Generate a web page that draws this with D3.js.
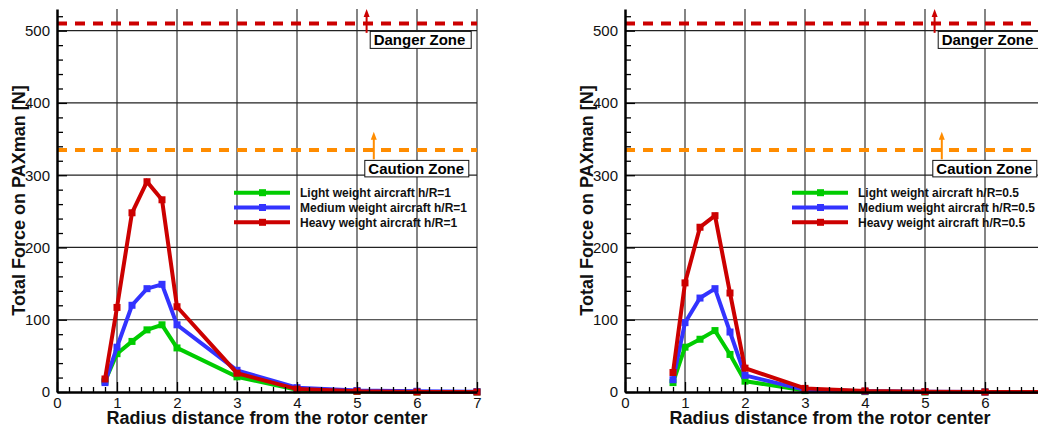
<!DOCTYPE html>
<html>
<head>
<meta charset="utf-8">
<script src="https://cdn.jsdelivr.net/npm/d3@7"></script>
<style>
body { margin: 0; background: #fff; }
svg { display: block; font-family: "Liberation Sans", Arial, Helvetica, sans-serif; }
</style>
</head>
<body>
<svg id="chart"></svg>
<script>
// radius positions (r/R) where the force was evaluated
const radius = [0.8, 1, 1.25, 1.5, 1.75, 2, 3, 4, 5, 6, 7];

// h/R = 1 (left panel)
const lightH1  = [15, 53, 70, 86, 93, 61, 21, 3, 1, 0, 0];
const mediumH1 = [13, 62, 120, 143, 149, 93, 30, 6, 2, 1, 0.5];
const heavyH1  = [18, 117, 248, 291, 266, 118, 26, 4, 1, 0, 0];

// h/R = 0.5 (right panel)
const lightH05  = [13, 62, 73, 85, 52, 15, 2, 0.5, 0, 0, 0];
const mediumH05 = [17, 96, 130, 143, 83, 23, 3, 1, 0.5, 0, 0];
const heavyH05  = [27, 151, 228, 244, 137, 33, 5, 1.5, 0.5, 0, 0];

const seriesNames = ["Light weight aircraft", "Medium weight aircraft", "Heavy weight aircraft"];
const seriesColors = ["#00cc00", "#3333ff", "#cc0000"];

const dangerLevel = 510;
const cautionLevel = 335;

const xTicks = [0, 1, 2, 3, 4, 5, 6, 7];
const yTicks = [0, 100, 200, 300, 400, 500];
const yMinor = d3.range(20, 531, 20).filter(v => v % 100 !== 0);
const xMinor = d3.range(0.2, 7, 0.2).filter(v => Math.abs(v - Math.round(v)) > 0.01);

const width = 1038, height = 433;

const svg = d3.select("#chart")
    .attr("width", width)
    .attr("height", height);

svg.append("rect").attr("width", width).attr("height", height).attr("fill", "#fff");

function drawPanel(left, hr, values, legendLeft, titleCenter) {
    const x = d3.scaleLinear().domain([0, 7]).range([left, left + 420]);
    const y = d3.scaleLinear().domain([0, 530]).range([392, 9]);

    const g = svg.append("g");

    // grid
    g.selectAll(".vgrid")
        .data(xTicks.slice(1))
        .join("line")
        .attr("class", "vgrid")
        .attr("x1", d => x(d)).attr("x2", d => x(d))
        .attr("y1", y(0)).attr("y2", y(530))
        .attr("stroke", "#333").attr("stroke-width", 1.2);

    g.selectAll(".hgrid")
        .data(yTicks.slice(1))
        .join("line")
        .attr("class", "hgrid")
        .attr("x1", x(0)).attr("x2", x(7))
        .attr("y1", d => y(d)).attr("y2", d => y(d))
        .attr("stroke", "#222").attr("stroke-width", 1.2);

    // zone limits
    g.append("line")
        .attr("x1", x(0)).attr("x2", x(7))
        .attr("y1", y(dangerLevel)).attr("y2", y(dangerLevel))
        .attr("stroke", "#cc0000").attr("stroke-width", 4)
        .attr("stroke-dasharray", "10,8");

    g.append("line")
        .attr("x1", x(0)).attr("x2", x(7))
        .attr("y1", y(cautionLevel)).attr("y2", y(cautionLevel))
        .attr("stroke", "#ff8c00").attr("stroke-width", 4)
        .attr("stroke-dasharray", "10,8");

    // arrows
    function arrow(xv, y0, y1, color) {
        g.append("line")
            .attr("x1", x(xv)).attr("x2", x(xv))
            .attr("y1", y(y0)).attr("y2", y(y1) + 6)
            .attr("stroke", color).attr("stroke-width", 2);
        g.append("path")
            .attr("d", `M${x(xv) - 3},${y(y1) + 8}L${x(xv)},${y(y1)}L${x(xv) + 3},${y(y1) + 8}Z`)
            .attr("fill", color);
    }
    arrow(5.16, 497, 530, "#cc0000");
    arrow(5.28, 322, 360, "#ff8c00");

    // zone labels
    function zoneLabel(xv, yv, w, h, label) {
        g.append("rect")
            .attr("x", x(xv)).attr("y", y(yv))
            .attr("width", w).attr("height", h)
            .attr("fill", "#fff").attr("stroke", "#111").attr("stroke-width", 1);
        g.append("text")
            .attr("x", x(xv) + 3.5).attr("y", y(yv) + 13.5)
            .attr("font-size", 15).attr("font-weight", "bold")
            .text(label);
    }
    zoneLabel(5.22, 499, 101, 17, "Danger Zone");
    zoneLabel(5.13, 320.5, 104, 16.5, "Caution Zone");

    // series
    const line = d3.line().x(d => x(d[0])).y(d => y(d[1]));
    values.forEach((vals, i) => {
        const pts = radius.map((r, j) => [r, vals[j]]);
        g.append("path")
            .datum(pts)
            .attr("d", line)
            .attr("fill", "none")
            .attr("stroke", seriesColors[i])
            .attr("stroke-width", 4)
            .attr("stroke-linejoin", "miter");
        g.selectAll(".pt" + i)
            .data(pts)
            .join("rect")
            .attr("class", "pt" + i)
            .attr("x", d => x(d[0]) - 3.5).attr("y", d => y(d[1]) - 3.5)
            .attr("width", 7).attr("height", 7)
            .attr("fill", seriesColors[i]);
    });

    // legend
    const lg = g.append("g").attr("transform", `translate(${left + legendLeft},192.7)`);
    seriesNames.forEach((name, i) => {
        const row = lg.append("g").attr("transform", `translate(0,${i * 14.8})`);
        row.append("line").attr("x1", 0).attr("x2", 56)
            .attr("stroke", seriesColors[i]).attr("stroke-width", 4);
        row.append("rect").attr("x", 25).attr("y", -3.5).attr("width", 7).attr("height", 7)
            .attr("fill", seriesColors[i]);
        row.append("text")
            .attr("x", 66).attr("dy", "0.36em")
            .attr("font-size", 12).attr("font-weight", "bold")
            .attr("fill", "#111")
            .text(`${name} h/R=${hr}`);
    });

    // axes
    const yAxis = g.append("g")
        .attr("transform", `translate(${x(0)},0)`)
        .call(d3.axisLeft(y).tickValues(yTicks).tickSize(-10).tickSizeOuter(0).tickPadding(7));
    g.append("g")
        .attr("transform", `translate(${x(0)},0)`)
        .call(d3.axisLeft(y).tickValues(yMinor).tickSize(-6).tickFormat(""))
        .call(a => a.select(".domain").remove());

    const xAxis = g.append("g")
        .attr("transform", `translate(0,${y(0)})`)
        .call(d3.axisBottom(x).tickValues(xTicks).tickSize(-10).tickSizeOuter(0).tickPadding(5)
            .tickFormat(d3.format("d")));
    g.append("g")
        .attr("transform", `translate(0,${y(0)})`)
        .call(d3.axisBottom(x).tickValues(xMinor).tickSize(-5).tickFormat(""))
        .call(a => a.select(".domain").remove())
        .call(a => a.selectAll("text").remove());

    // labels past the right edge of the page are dropped (the panel is cut there)
    xAxis.selectAll(".tick").filter(d => x(d) > width - 4).select("text").remove();

    g.selectAll(".tick line").attr("stroke", "#000").attr("stroke-width", 1.3);
    [yAxis, xAxis].forEach(a => {
        a.attr("font-size", 15).attr("font-family", null);
        a.select(".domain").attr("stroke", "#000").attr("stroke-width", 2.5);
        a.selectAll("text").attr("fill", "#111");
    });

    // titles
    g.append("text")
        .attr("x", titleCenter).attr("y", 424)
        .attr("text-anchor", "middle")
        .attr("font-size", 18).attr("font-weight", "bold")
        .attr("fill", "#111")
        .text("Radius distance from the rotor center");

    g.append("text")
        .attr("transform", `translate(${left - 32},${y(265)}) rotate(-90)`)
        .attr("text-anchor", "middle")
        .attr("font-size", 18).attr("font-weight", "bold")
        .attr("fill", "#111")
        .text("Total Force on PAXman [N]");
}

drawPanel(57, "1", [lightH1, mediumH1, heavyH1], 177, 267);
drawPanel(625, "0.5", [lightH05, mediumH05, heavyH05], 167, 830);
</script>
</body>
</html>
